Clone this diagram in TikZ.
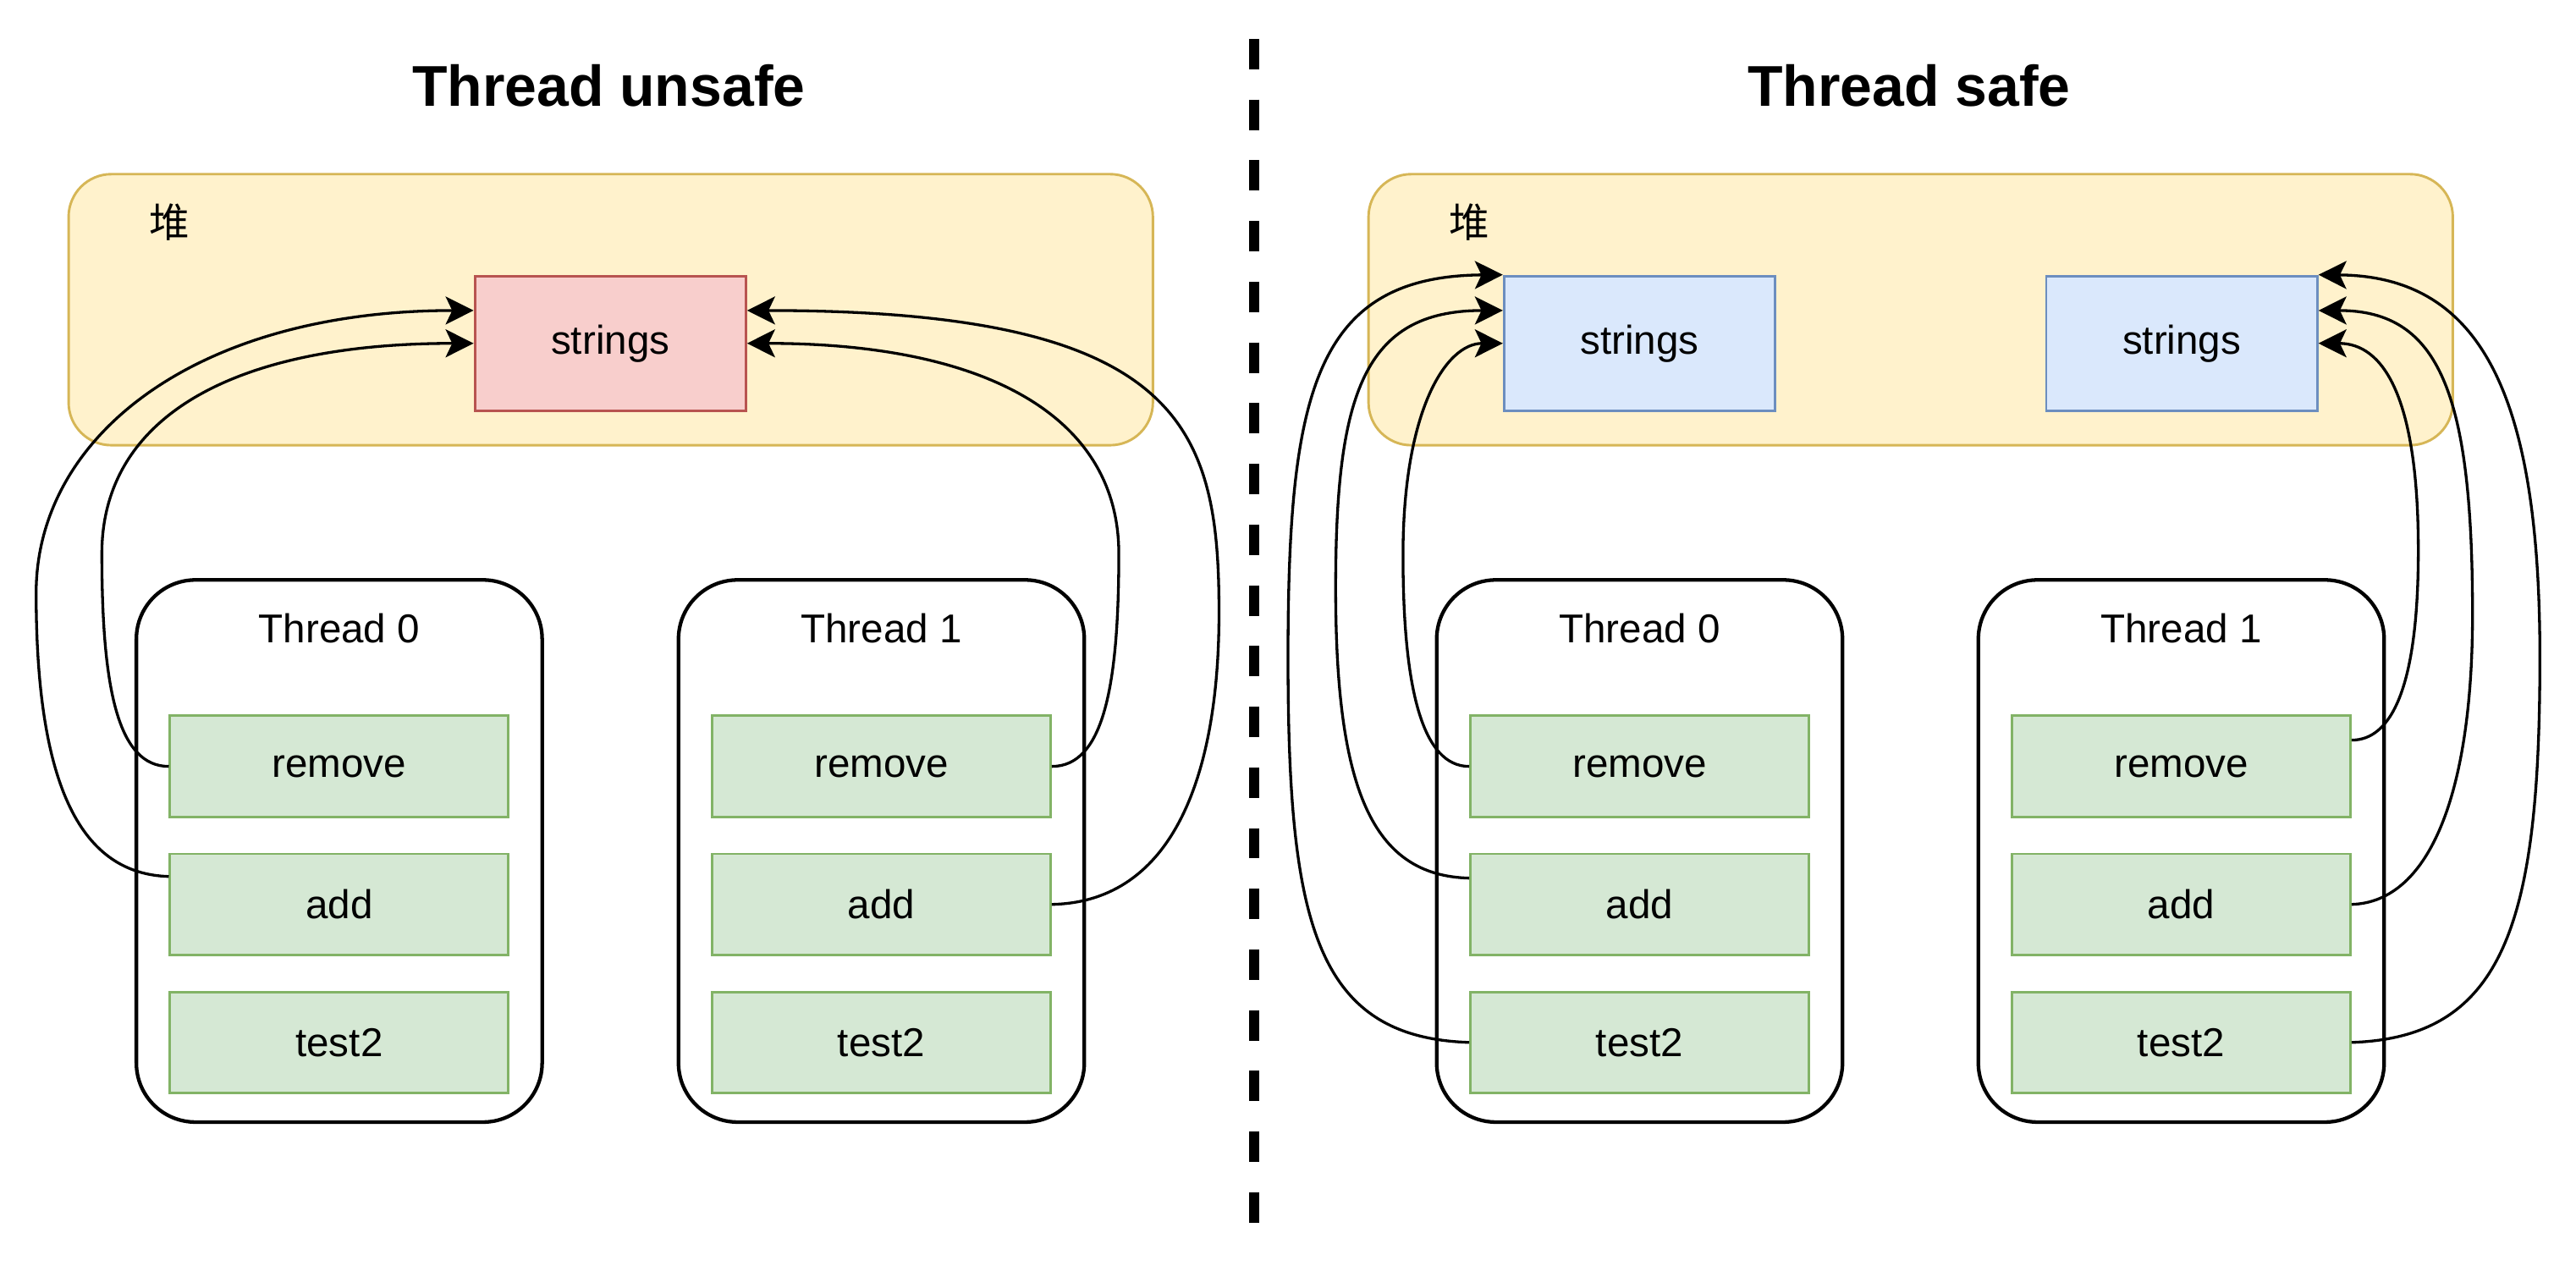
\documentclass[tikz,border=0pt]{standalone}
\usepackage{fontspec}
\setmainfont{Liberation Sans}
\newfontfamily\cjk{Noto Sans CJK SC}
\usetikzlibrary{arrows.meta,positioning}

\definecolor{heapfill}{HTML}{FFF2CC}
\definecolor{heapline}{HTML}{D6B656}
\definecolor{redfill}{HTML}{F8CECC}
\definecolor{redline}{HTML}{B85450}
\definecolor{bluefill}{HTML}{DAE8FC}
\definecolor{blueline}{HTML}{6C8EBF}
\definecolor{greenfill}{HTML}{D5E8D4}
\definecolor{greenline}{HTML}{82B366}

\newcommand\txtfont{\fontsize{24.5}{29}\selectfont}
\newcommand\ttlfont{\bfseries\fontsize{35}{42}\selectfont}

\begin{document}
\begin{tikzpicture}[x=1pt,y=-1pt,>={Stealth[length=17pt,width=17pt,inset=4pt]},
	heap/.style={draw=heapline,fill=heapfill,line width=1.5pt,rounded corners=26pt,minimum width=660pt,minimum height=165pt,inner sep=0pt},
	thread/.style={draw,line width=2.2pt,rounded corners=36pt,minimum width=247pt,minimum height=330pt,inner sep=0pt},
	method/.style={draw=greenline,fill=greenfill,line width=1.5pt,minimum width=206pt,minimum height=61.5pt,inner sep=0pt,font=\txtfont},
	list/.style={line width=1.5pt,minimum width=165pt,minimum height=82pt,inner sep=0pt,font=\txtfont},
	link/.style={->,line width=1.7pt}]
			\useasboundingbox (0,0) rectangle (1568,770.6);

			% Titles
			\node[font=\ttlfont,anchor=base] (ttl1) at (370.5,64.4) {Thread unsafe};
			\node[font=\ttlfont,anchor=base] (ttl2) at (1162,64.4) {Thread safe};

			% Separator
			\coordinate (cutT) at (763.4,23.7);
			\coordinate (cutB) at (763.4,745);
			\draw[line width=6.2pt,dash pattern=on 18.5pt off 18.45pt] (cutT) -- (cutB);

			% Heaps
			\node[heap] (h1) at (371.75,188.5) {};
			\node[heap] (h2) at (1163,188.5) {};
			\node[font={\cjk\txtfont}] (hp1) at (103,135.5) {堆};
			\node[font={\cjk\txtfont}] (hp2) at (894.5,135.5) {堆};

			% Shared lists
			\node[list,draw=redline,fill=redfill] (s1) at (371.5,209) {strings};
			\node[list,draw=blueline,fill=bluefill] (sA) at (998,209) {strings};
			\node[list,draw=blueline,fill=bluefill] (sB) at (1328,209) {strings};

			% Threads
			\node[thread] (t0) at (206.5,518) {};
			\node[thread] (t1) at (536.5,518) {};
			\node[thread] (t2) at (998,518) {};
			\node[thread] (t3) at (1327.7,518) {};
			\node[font=\txtfont,anchor=base] (lb0) at (206.5,391.3) {Thread 0};
			\node[font=\txtfont,anchor=base] (lb1) at (536.5,391.3) {Thread 1};
			\node[font=\txtfont,anchor=base] (lb2) at (998,391.3) {Thread 0};
			\node[font=\txtfont,anchor=base] (lb3) at (1327.7,391.3) {Thread 1};

			% Methods
			\node[method] (rm0) at (206.5,466.5) {remove};
			\node[method,below=21pt of rm0] (ad0) {add};
			\node[method,below=21pt of ad0] (te0) {test2};
			\node[method] (rm1) at (536.5,466.5) {remove};
			\node[method,below=21pt of rm1] (ad1) {add};
			\node[method,below=21pt of ad1] (te1) {test2};
			\node[method] (rm2) at (998,466.5) {remove};
			\node[method,below=21pt of rm2] (ad2) {add};
			\node[method,below=21pt of ad2] (te2) {test2};
			\node[method] (rm3) at (1327.7,466.5) {remove};
			\node[method,below=21pt of rm3] (ad3) {add};
			\node[method,below=21pt of ad3] (te3) {test2};

			% Lines going to the one list
			\draw[link] (rm0.west) .. controls (72,466.5) and (62,420) .. (62,337) .. controls (62,255) and (140,209) .. (s1.west);
			\draw[link] ([yshift=17pt]ad0.west) .. controls (50,532) and (22,480) .. (22,361) .. controls (22,265) and (120,189) .. ([yshift=20pt]s1.west);
			\draw[link] (rm1.east) .. controls (671,466.5) and (681,420) .. (681,337) .. controls (681,255) and (603,209) .. (s1.east);
			\draw[link] (ad1.east) .. controls (715,549) and (742,470) .. (742,373) .. controls (742,260) and (720,189) .. ([yshift=20pt]s1.east);

			% Lines going to own lists
			\draw[link] (rm2.west) .. controls (866,466.5) and (854,420) .. (854,338) .. controls (854,250) and (880,209) .. (sA.west);
			\draw[link] ([yshift=16pt]ad2.west) .. controls (835,533) and (813,480) .. (813,358) .. controls (813,240) and (830,189) .. ([yshift=20pt]sA.west);
			\draw[link] (te2.west) .. controls (800,631.5) and (784,560) .. (784,400) .. controls (784,240) and (800,168) .. (sA.north west);

			\draw[link] ([yshift=16pt]rm3.east) .. controls (1455,450.5) and (1472,420) .. (1472,335) .. controls (1472,240) and (1450,209) .. (sB.east);
			\draw[link] (ad3.east) .. controls (1480,549) and (1505,480) .. (1505,374) .. controls (1505,240) and (1485,189) .. ([yshift=20pt]sB.east);
			\draw[link] (te3.east) .. controls (1525,631.5) and (1546,560) .. (1546,400) .. controls (1546,240) and (1510,168) .. (sB.north east);

		\end{tikzpicture}
\end{document}
